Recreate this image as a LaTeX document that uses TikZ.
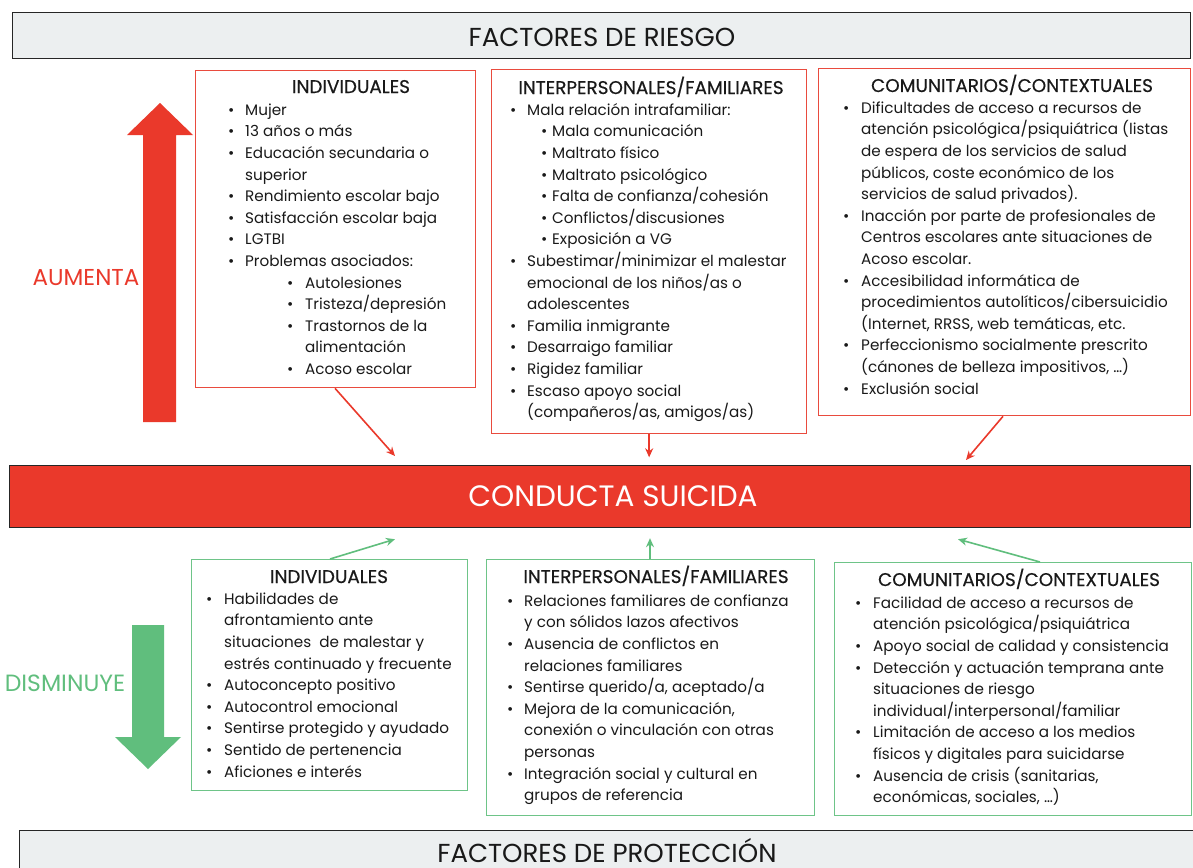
\documentclass[tikz,border=0pt]{standalone}
\usepackage{fontspec}
\setmainfont{Poppins}
\newfontfamily\titlefont{Poppins}[FakeBold=0.4]
\usetikzlibrary{arrows.meta,calc}
\definecolor{rred}{RGB}{234,57,43}
\definecolor{rline}{RGB}{233,75,62}
\definecolor{ggreen}{RGB}{96,190,125}
\definecolor{gline}{RGB}{110,196,136}
\definecolor{hgray}{RGB}{236,239,240}
\definecolor{txt}{RGB}{25,25,25}
\newcommand{\bl}{\makebox[17pt][l]{\textbullet}}
\newcommand{\ct}{\hspace*{17pt}}
\newcommand{\blg}{\makebox[18pt][l]{\textbullet}}
\newcommand{\ctg}{\hspace*{18pt}}
\newcommand{\sbA}{\hspace*{59pt}\makebox[18pt][l]{\textbullet}}
\newcommand{\scA}{\hspace*{77pt}}
\newcommand{\sbB}{\hspace*{31pt}\makebox[11pt][l]{\textbullet}}
\begin{document}
\begin{tikzpicture}[x=1pt,y=-1pt,
  bodyfont/.style={font=\fontsize{15.2}{21.6}\selectfont},
  rbox/.style={draw=rline,line width=1.3pt,fill=white,anchor=north west,inner sep=0},
  gbox/.style={draw=gline,line width=1.3pt,fill=white,anchor=north west,inner sep=0},
  bandbox/.style={draw=black!85,line width=1.2pt,fill=hgray,anchor=north west,inner sep=0},
  itemtext/.style={bodyfont,text=txt,align=left,anchor=north west,inner sep=0},
  boxtitle/.style={font=\titlefont\fontsize{18.4}{21}\selectfont,text=txt,anchor=base,inner sep=0},
  redarrow/.style={draw=rred,line width=1.6pt,-{Stealth[length=9pt,width=8pt]}},
  greenarrow/.style={draw=ggreen,line width=1.6pt,-{Stealth[length=9pt,width=8pt]}}]
\useasboundingbox (0,0) rectangle (1193,867);
\fill[white] (0,0) rectangle (1193,867);

% header bands
\node[bandbox,minimum width=1178,minimum height=46] (top) at (12,12) {};
\node[font=\fontsize{26}{30}\selectfont,text=txt] (toptxt) at (602,37) {FACTORES DE RIESGO};
\node[bandbox,minimum width=1180,minimum height=60] (bot) at (19,830) {};
\node[font=\fontsize{26}{30}\selectfont,text=txt] (bottxt) at (607,851) {FACTORES DE PROTECCIÓN};

% big side arrows
\fill[rred] (143,422) -- (143,135) -- (127,135) -- (160,103) -- (193,135) -- (176,135) -- (176,422) -- cycle;
\node[font=\fontsize{23}{26}\selectfont,text=rred] (aum) at (86,278) {AUMENTA};
\fill[ggreen] (132,625) -- (164,625) -- (164,737) -- (181,737) -- (148,769) -- (115,737) -- (132,737) -- cycle;
\node[font=\fontsize{23.5}{26}\selectfont,text=ggreen] (dis) at (65,683) {DISMINUYE};

% central band
\node[draw=black!85,line width=1.2pt,fill=rred,anchor=north west,minimum width=1181,minimum height=62,inner sep=0] (cs) at (9,465) {};
\node[font=\fontsize{29.5}{32}\selectfont,text=white] (cstxt) at (613,496) {CONDUCTA SUICIDA};

% risk boxes
\node[rbox,minimum width=280,minimum height=317] (ri) at (195,70) {};
\node[rbox,minimum width=315,minimum height=364] (rp) at (491,69) {};
\node[rbox,minimum width=372,minimum height=347] (rc) at (818,68) {};

\node[boxtitle] (rit) at (351,93) {INDIVIDUALES};
\node[boxtitle] (rpt) at (651,94) {INTERPERSONALES/FAMILIARES};
\node[boxtitle] (rct) at (1012,92) {COMUNITARIOS/CONTEXTUALES};

\node[itemtext] (rix) at (228,99.9) {\strut\bl Mujer\\
\bl 13 años o más\\
\bl Educación secundaria o\\
\ct superior\\
\bl Rendimiento escolar bajo\\
\bl Satisfacción escolar baja\\
\bl LGTBI\\
\bl Problemas asociados:\\
\sbA Autolesiones\\
\sbA Tristeza/depresión\\
\sbA Trastornos de la\\
\scA alimentación\\
\sbA Acoso escolar};

\node[itemtext] (rpx) at (510,99.9) {\strut\bl Mala relación intrafamiliar:\\
\sbB Mala comunicación\\
\sbB Maltrato físico\\
\sbB Maltrato psicológico\\
\sbB Falta de confianza/cohesión\\
\sbB Conflictos/discusiones\\
\sbB Exposición a VG\\
\bl Subestimar/minimizar el malestar\\
\ct emocional de los niños/as o\\
\ct adolescentes\\
\bl Familia inmigrante\\
\bl Desarraigo familiar\\
\bl Rigidez familiar\\
\bl Escaso apoyo social\\
\ct (compañeros/as, amigos/as)};

\node[itemtext] (rcx) at (843,97.9) {\strut\blg Dificultades de acceso a recursos de\\
\ctg atención psicológica/psiquiátrica (listas\\
\ctg de espera de los servicios de salud\\
\ctg públicos, coste económico de los\\
\ctg servicios de salud privados).\\
\blg Inacción por parte de profesionales de\\
\ctg Centros escolares ante situaciones de\\
\ctg Acoso escolar.\\
\blg Accesibilidad informática de\\
\ctg procedimientos autolíticos/cibersuicidio\\
\ctg (Internet, RRSS, web temáticas, etc.\\
\blg Perfeccionismo socialmente prescrito\\
\ctg (cánones de belleza impositivos, …)\\
\blg Exclusión social};

% protection boxes
\node[gbox,minimum width=276,minimum height=231] (gi) at (191,559) {};
\node[gbox,minimum width=328,minimum height=256] (gp) at (486,559) {};
\node[gbox,minimum width=357,minimum height=253] (gc) at (834,562) {};

\node[boxtitle] (git) at (329,583) {INDIVIDUALES};
\node[boxtitle] (gpt) at (656,583) {INTERPERSONALES/FAMILIARES};
\node[boxtitle] (gct) at (1019,586) {COMUNITARIOS/CONTEXTUALES};

\node[itemtext] (gix) at (206,588.9) {\strut\blg Habilidades de\\
\ctg afrontamiento ante\\
\ctg situaciones\ \ de malestar y\\
\ctg estrés continuado y frecuente\\
\blg Autoconcepto positivo\\
\blg Autocontrol emocional\\
\blg Sentirse protegido y ayudado\\
\blg Sentido de pertenencia\\
\blg Aficiones e interés};

\node[itemtext] (gpx) at (507,590.9) {\strut\bl Relaciones familiares de confianza\\
\ct y con sólidos lazos afectivos\\
\bl Ausencia de conflictos en\\
\ct relaciones familiares\\
\bl Sentirse querido/a, aceptado/a\\
\bl Mejora de la comunicación,\\
\ct conexión o vinculación con otras\\
\ct personas\\
\bl Integración social y cultural en\\
\ct grupos de referencia};

\node[itemtext] (gcx) at (855,592.9) {\strut\blg Facilidad de acceso a recursos de\\
\ctg atención psicológica/psiquiátrica\\
\blg Apoyo social de calidad y consistencia\\
\blg Detección y actuación temprana ante\\
\ctg situaciones de riesgo\\
\ctg individual/interpersonal/familiar\\
\blg Limitación de acceso a los medios\\
\ctg físicos y digitales para suicidarse\\
\blg Ausencia de crisis (sanitarias,\\
\ctg económicas, sociales, …)};

% connectors
\draw[redarrow] ($(ri.south west)+(140,0)$) -- ($(cs.north west)+(386,-9)$);
\draw[redarrow] (rp.south) -- ($(rp.south)+(0,23)$);
\draw[redarrow] ($(rc.south west)+(185,0)$) -- ($(cs.north west)+(957,-5)$);
\draw[greenarrow] ($(gi.north west)+(139,0)$) -- ($(cs.south west)+(386,11)$);
\draw[greenarrow] ($(gp.north west)+(164,0)$) -- ($(cs.south west)+(641,10)$);
\draw[greenarrow] ($(gc.north west)+(206,0)$) -- ($(cs.south west)+(949,11)$);
\end{tikzpicture}
\end{document}
